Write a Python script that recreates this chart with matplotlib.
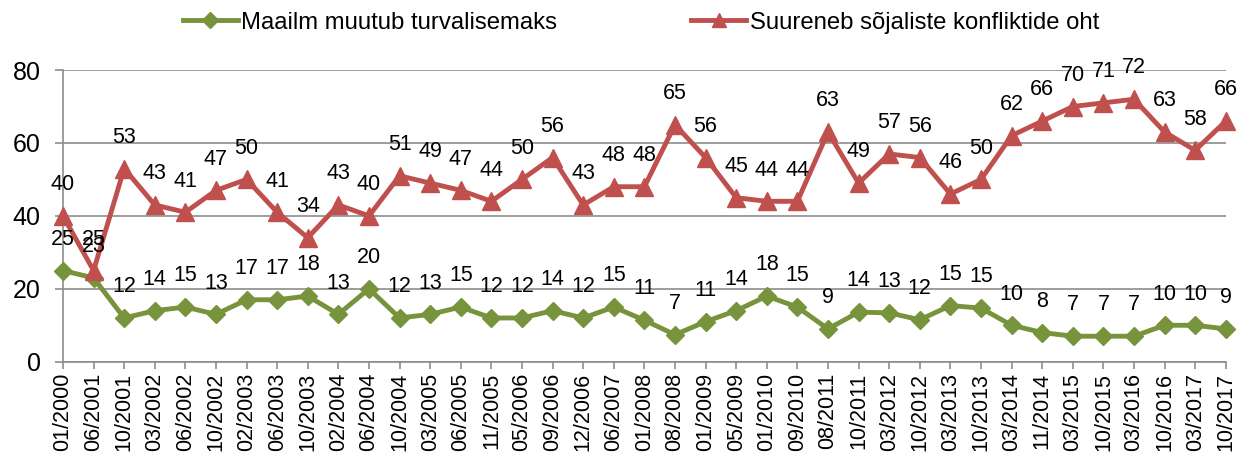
import matplotlib
matplotlib.use("Agg")
import matplotlib.pyplot as plt

categories = ["01/2000", "06/2001", "10/2001", "03/2002", "06/2002", "10/2002", "02/2003",
              "06/2003", "10/2003", "02/2004", "06/2004", "10/2004", "03/2005", "06/2005",
              "11/2005", "05/2006", "09/2006", "12/2006", "06/2007", "01/2008", "08/2008",
              "01/2009", "05/2009", "01/2010", "09/2010", "08/2011", "10/2011", "03/2012",
              "10/2012", "03/2013", "10/2013", "03/2014", "11/2014", "03/2015", "10/2015",
              "03/2016", "10/2016", "03/2017", "10/2017"]

safer = [25, 23, 12, 14, 15, 13, 17, 17, 18, 13, 20, 12, 13, 15, 12, 12, 14, 12, 15, 11.4,
         7.4, 11, 14, 18, 15, 9, 13.6, 13.4, 11.5, 15.4, 14.7, 10, 8, 7, 7, 7, 10, 10, 9]
conflict = [40, 25, 53, 43, 41, 47, 50, 41, 34, 43, 40, 51, 49, 47, 44, 50, 56, 43, 48, 48,
            65, 56, 45, 44, 44, 63, 49, 57, 56, 46, 50, 62, 66, 70, 71, 72, 63, 58, 66]

series_names = ["Maailm muutub turvalisemaks", "Suureneb sõjaliste konfliktide oht"]
yticks = [0, 20, 40, 60, 80]

GREEN = "#77933C"
RED = "#C0504D"
GRID = "#8C8C8C"

plt.rcParams['font.family'] = ['Liberation Sans', 'DejaVu Sans']

fig = plt.figure(figsize=(12.47, 4.55), dpi=100)
ax = fig.add_axes([0.0505, 0.205, 0.9325, 0.641])

x = list(range(len(categories)))
l1, = ax.plot(x, safer, color=GREEN, lw=3.5, marker='D', ms=9, mec=GREEN, mfc=GREEN,
              clip_on=False, zorder=3, label=series_names[0])
l2, = ax.plot(x, conflict, color=RED, lw=3.5, marker='^', ms=12.5, mec=RED, mfc=RED,
              clip_on=False, zorder=3, label=series_names[1])

for xs, vals in ((x, safer), (x, conflict)):
    for xi, v in zip(xs, vals):
        ax.annotate(f"{v:.0f}", (xi, v), xytext=(0, 22.5), textcoords='offset points',
                    ha='center', va='center', fontsize=15.5, color='black', zorder=4)

ax.set_xlim(0, len(categories) - 1)
ax.set_ylim(0, 80)
ax.set_yticks(yticks)
ax.set_xticks(x)
ax.set_xticklabels(categories, rotation=90, fontsize=15.5)
ax.tick_params(axis='y', labelsize=18, length=6, color=GRID, width=1.2, pad=10)
ax.tick_params(axis='x', length=5, color=GRID, width=1.2, pad=3)
ax.grid(axis='y', color=GRID, lw=1.2)
ax.set_axisbelow(True)
for s in ['top', 'right']:
    ax.spines[s].set_visible(False)
for s in ['left', 'bottom']:
    ax.spines[s].set_color(GRID)
    ax.spines[s].set_linewidth(1.2)

fig.legend(handles=[l1, l2], loc='center', bbox_to_anchor=(0.514, 0.95), ncol=2,
           frameon=False, fontsize=17.2, handlelength=2.3, handletextpad=0.15,
           columnspacing=5.6, markerscale=0.85)

fig.savefig("out.png", dpi=100)
